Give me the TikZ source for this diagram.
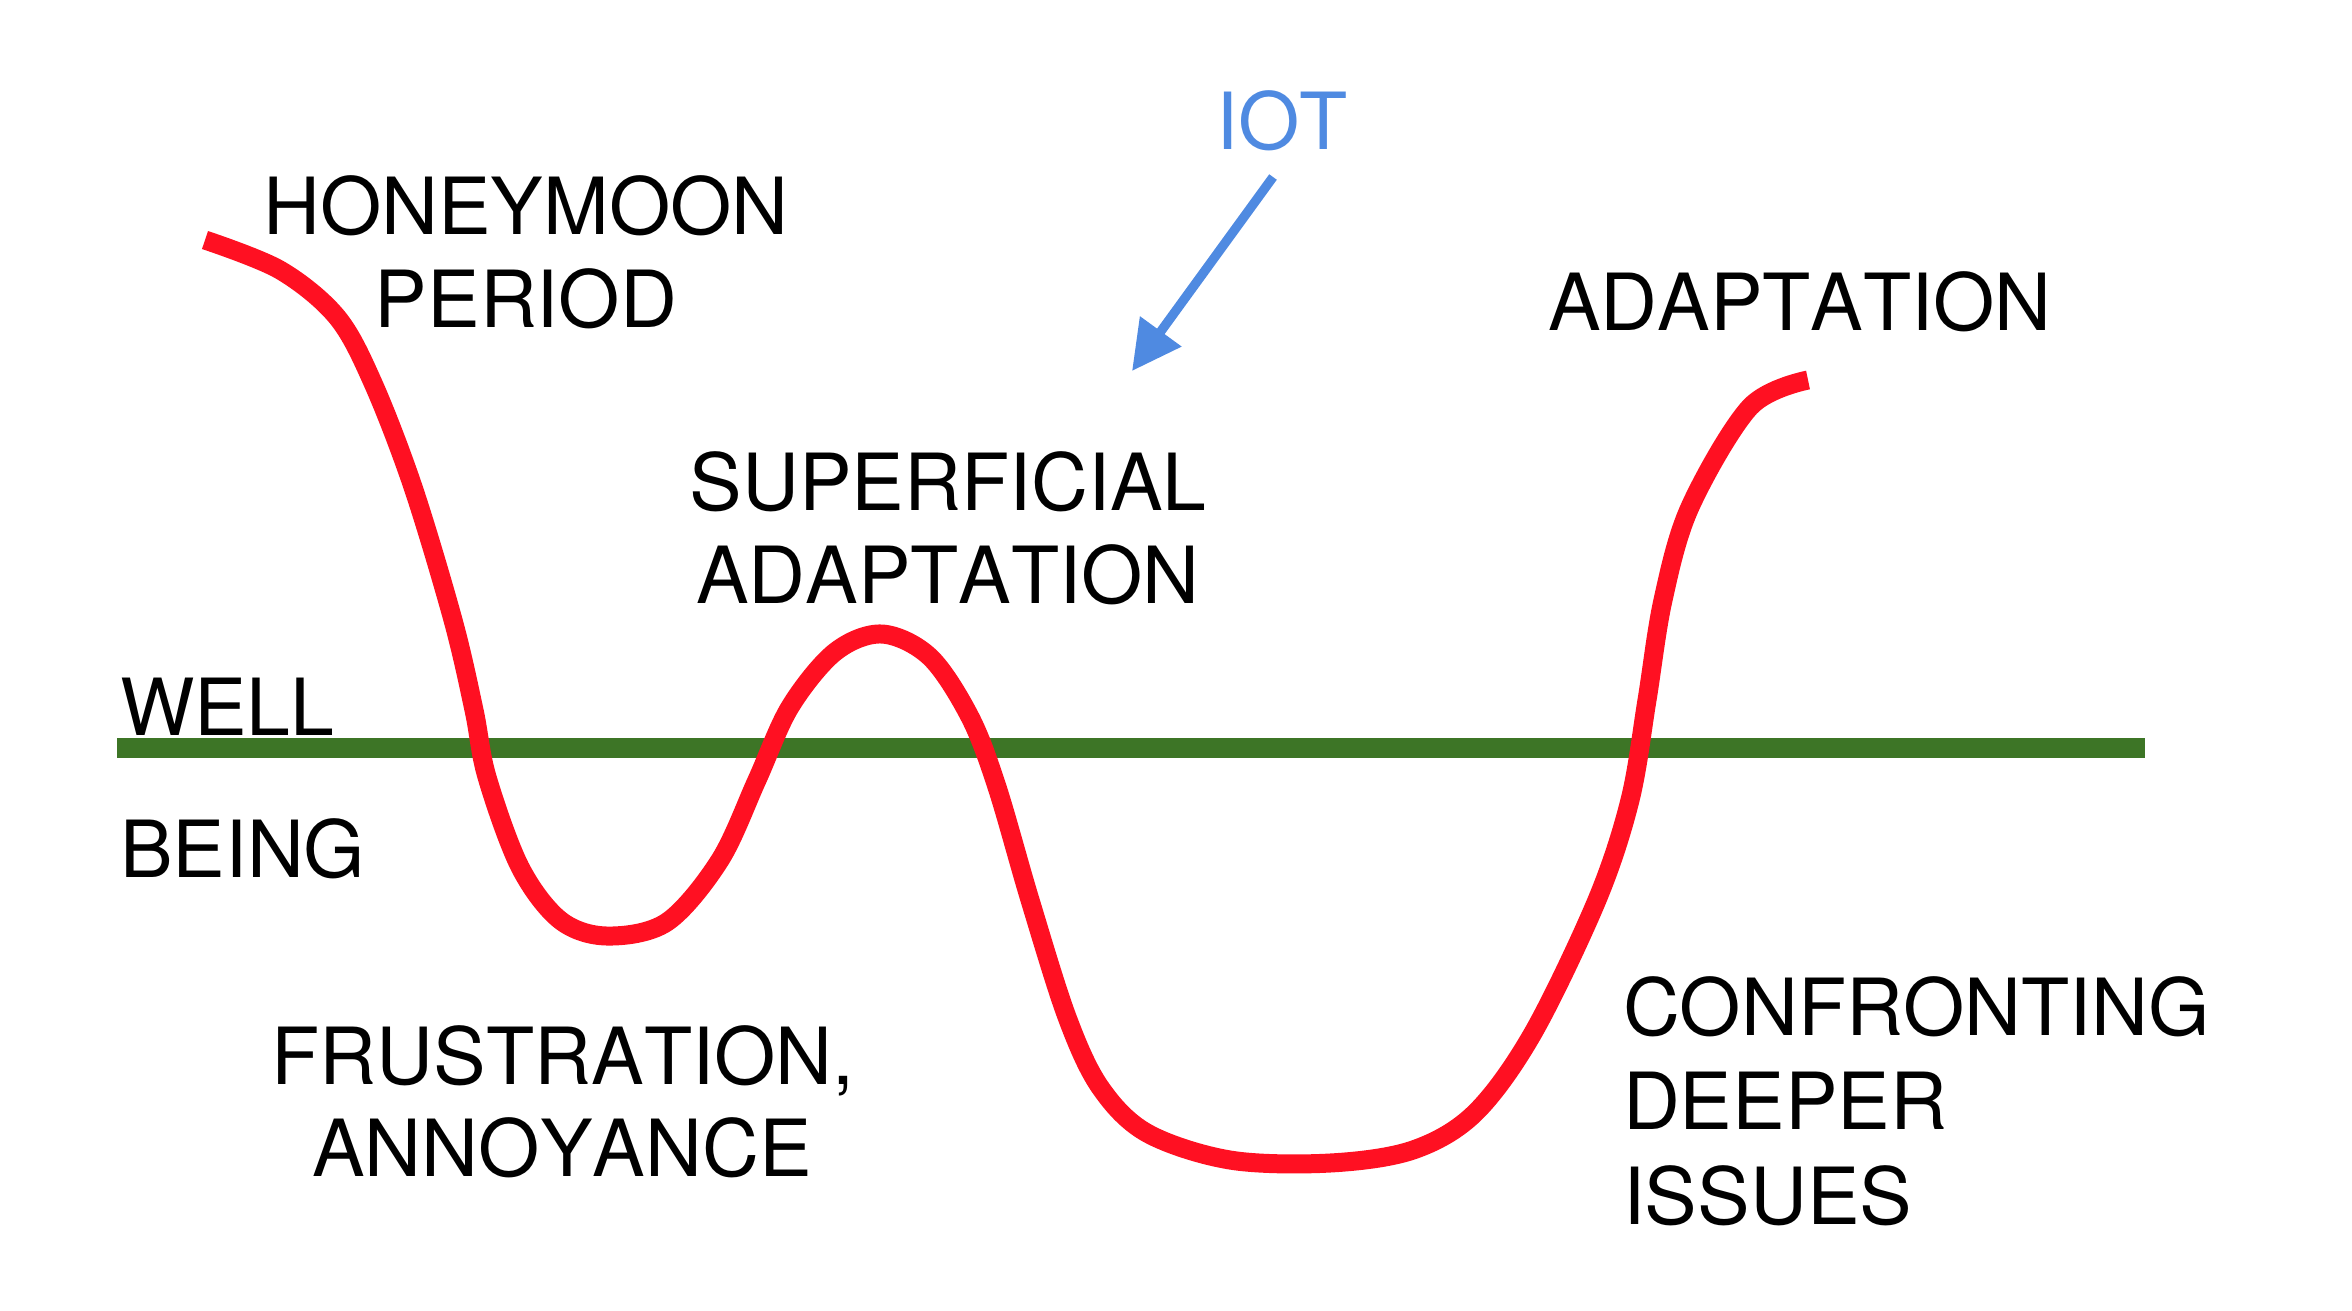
\documentclass[tikz,border=0pt]{standalone}
\usepackage{fontspec}
\setmainfont[Kerning=Off]{TeX Gyre Heros}
\usetikzlibrary{arrows.meta}
\definecolor{curvered}{RGB}{255,16,34}
\definecolor{wellgreen}{RGB}{61,117,38}
\definecolor{iotblue}{RGB}{79,138,225}
\tikzset{
  lbl/.style={inner sep=0pt, outer sep=0pt, font=\fontsize{23.65}{27.9}\selectfont, text=black},
  curve/.style={draw=curvered, line width=5.7pt, line join=round, line cap=butt},
  baseline line/.style={draw=wellgreen, line width=6pt, line cap=butt},
  iotarrow/.style={draw=iotblue, fill=iotblue, line width=2.8pt, line cap=butt,
    -{Triangle[length=14.7pt,width=14.7pt]}}
}
\begin{document}
\begin{tikzpicture}[x=0.3pt,y=-0.3pt]
\useasboundingbox (0,0) rectangle (2352,1310);
% well-being line
\coordinate (gl) at (117,748);
\coordinate (gr) at (2145,748);
\draw[baseline line] (gl) -- (gr);
% curve
\draw[curve] plot[smooth, tension=0.55] coordinates {
 (205,240) (280,270) (337,317) (373,383) (413,487) (453,620) (474,710) (487,777)
 (520,867) (560,920) (607,936) (667,922) (720,860) (757,780) (790,707) (835,652)
 (882,634) (930,657) (970,717) (997,787) (1030,900) (1067,1017) (1100,1087)
 (1147,1133) (1230,1160) (1330,1163) (1413,1150) (1475,1113) (1533,1033)
 (1597,900) (1630,800) (1647,700) (1663,600) (1690,507) (1750,407) (1808,380)};
% labels
\node[lbl, anchor=base] (honey) at (526,234) {HONEYMOON};
\node[lbl, anchor=base] (period) at (526,327) {PERIOD};
\node[lbl, anchor=base west] (adapt) at (1548,330) {ADAPTATION};
\node[lbl, anchor=base] (super) at (948,510) {SUPERFICIAL};
\node[lbl, anchor=base] (superad) at (948,603) {ADAPTATION};
\node[lbl, anchor=base west] (well) at (120,735) {WELL};
\node[lbl, anchor=base west] (being) at (120,877) {BEING};
\node[lbl, anchor=base] (frus) at (563,1084) {FRUSTRATION,};
\node[lbl, anchor=base] (annoy) at (562,1176) {ANNOYANCE};
\node[lbl, anchor=base west] (conf) at (1623,1035) {CONFRONTING};
\node[lbl, anchor=base west] (deeper) at (1623,1129) {DEEPER};
\node[lbl, anchor=base west] (issues) at (1623,1224) {ISSUES};
\node[lbl, anchor=base, text=iotblue] (iot) at (1282,149) {IOT};
% arrow
\coordinate (iotfrom) at (1273,177);
\coordinate (iottip) at (1132,371);
\draw[iotarrow] (iotfrom) -- (iottip);
\end{tikzpicture}
\end{document}
